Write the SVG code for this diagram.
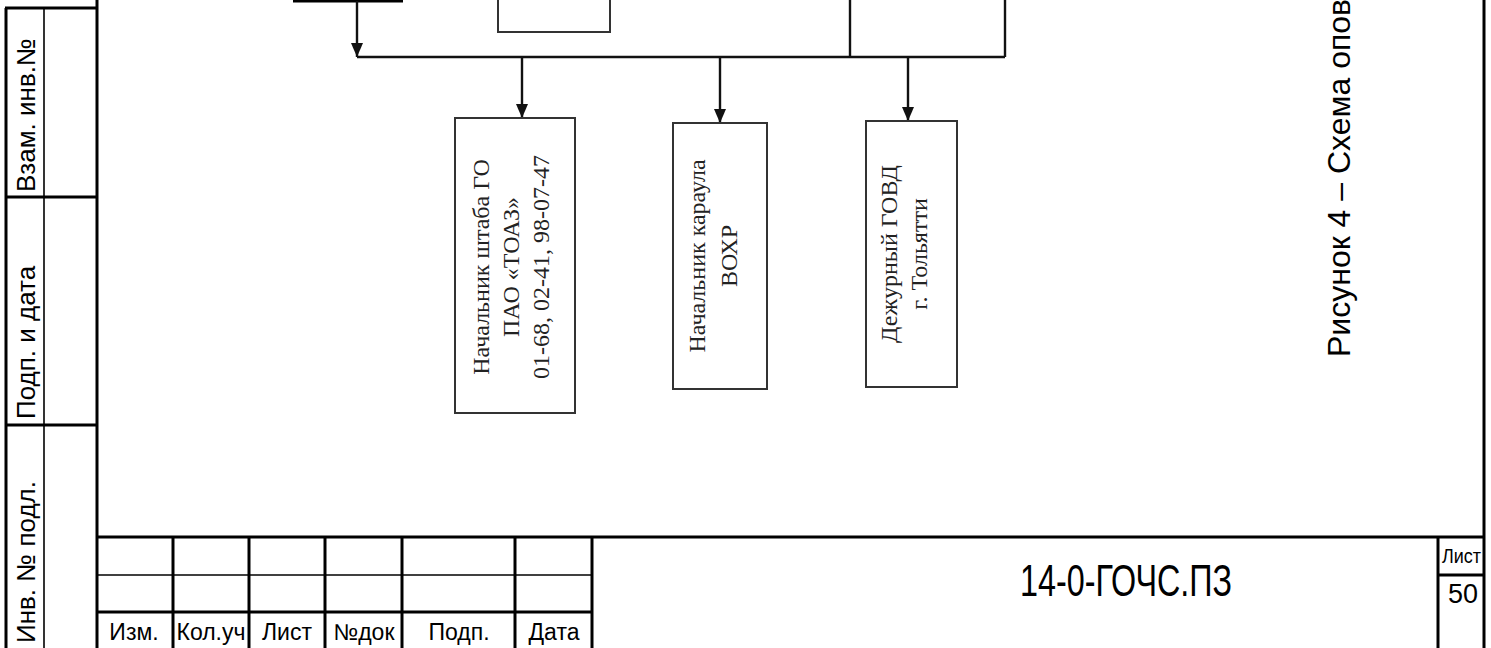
<svg xmlns="http://www.w3.org/2000/svg" width="1491" height="648" viewBox="0 0 1491 648">
<style>
.frame{stroke:#000;stroke-width:3;fill:none}
.thin{stroke:#000;stroke-width:1.6;fill:none}
.box{stroke:#333;stroke-width:2;fill:#fff}
.conn{stroke:#111;stroke-width:2.4;fill:none}
.sans{font-family:"Liberation Sans",Arial,sans-serif;fill:#000}
.side{font-family:"Liberation Sans",Arial,sans-serif;font-size:26px;fill:#000}
.serif{font-family:"Liberation Serif","Times New Roman",serif;font-size:24px;fill:#222;text-anchor:middle}
</style>
<defs>
<marker id="arr" markerUnits="userSpaceOnUse" markerWidth="14" markerHeight="14" viewBox="0 0 14 14" refX="14" refY="7" orient="auto">
<path d="M0,1 L14,7 L0,13 Z" fill="#111"/>
</marker>
</defs>
<rect width="1491" height="648" fill="#fff"/>

<g id="frame">
<line class="frame" x1="97" y1="0" x2="97" y2="648"/>
<line class="frame" x1="1484" y1="0" x2="1484" y2="648"/>
<line class="frame" x1="6" y1="8" x2="6" y2="648"/>
<line class="thin" x1="44" y1="8" x2="44" y2="648"/>
<line class="frame" x1="5" y1="8" x2="97" y2="8"/>
<line class="frame" x1="5" y1="197" x2="97" y2="197"/>
<line class="frame" x1="5" y1="425" x2="97" y2="425"/>
<text class="side" transform="translate(35,192) rotate(-90)">Взам. инв.№</text>
<text class="side" transform="translate(35,419) rotate(-90)">Подп. и дата</text>
<text class="side" transform="translate(35,643) rotate(-90)">Инв. № подл.</text>
</g>

<g id="title-block">
<line class="frame" x1="97" y1="537" x2="1484" y2="537"/>
<line class="thin" x1="97" y1="575" x2="592" y2="575"/>
<line class="frame" x1="97" y1="612" x2="592" y2="612"/>
<line class="frame" x1="173" y1="537" x2="173" y2="648"/>
<line class="frame" x1="249" y1="537" x2="249" y2="648"/>
<line class="frame" x1="325" y1="537" x2="325" y2="648"/>
<line class="frame" x1="402" y1="537" x2="402" y2="648"/>
<line class="frame" x1="515" y1="537" x2="515" y2="648"/>
<line class="frame" x1="592" y1="537" x2="592" y2="648"/>
<line class="frame" x1="1438" y1="537" x2="1438" y2="648"/>
<line class="frame" x1="1438" y1="575" x2="1484" y2="575"/>
<g class="sans" font-size="23" text-anchor="middle">
<text x="134" y="640">Изм.</text>
<text x="211" y="640">Кол.уч</text>
<text x="287" y="640">Лист</text>
<text x="364" y="640">№док</text>
<text x="459" y="640">Подп.</text>
<text x="554" y="640">Дата</text>
</g>
<text class="sans" font-size="44" x="1020" y="596" textLength="212" lengthAdjust="spacingAndGlyphs">14-0-ГОЧС.ПЗ</text>
<text class="sans" font-size="21" x="1442" y="563" textLength="39" lengthAdjust="spacingAndGlyphs">Лист</text>
<text class="sans" font-size="28" x="1448" y="603" textLength="30" lengthAdjust="spacingAndGlyphs">50</text>
</g>

<g id="caption">
<text class="sans" font-size="32" transform="translate(1350,357) rotate(-90)">Рисунок 4 – Схема опов</text>
</g>

<g id="node-top-left">
<line class="frame" x1="293" y1="1" x2="403" y2="1"/>
</g>
<g id="node-top-center">
<path class="box" d="M498,0 V32 H610 V0"/>
</g>

<g id="connectors">
<path class="conn" d="M357,1 V57" marker-end="url(#arr)"/>
<path class="conn" d="M357,57 H1005"/>
<path class="conn" d="M850,0 V57"/>
<path class="conn" d="M1005,0 V57"/>
<path class="conn" d="M522,57 V118" marker-end="url(#arr)"/>
<path class="conn" d="M720,57 V123" marker-end="url(#arr)"/>
<path class="conn" d="M908,57 V121" marker-end="url(#arr)"/>
</g>

<g id="node-gochs">
<rect class="box" x="455" y="118" width="120" height="295"/>
<text class="serif" transform="translate(489,267) rotate(-90)">Начальник штаба ГО</text>
<text class="serif" transform="translate(519,267) rotate(-90)">ПАО «ТОАЗ»</text>
<text class="serif" transform="translate(549,267) rotate(-90)">01-68, 02-41, 98-07-47</text>
</g>

<g id="node-vokhr">
<rect class="box" x="673" y="123" width="94" height="266"/>
<text class="serif" transform="translate(705,256) rotate(-90)">Начальник караула</text>
<text class="serif" transform="translate(737,256) rotate(-90)">ВОХР</text>
</g>

<g id="node-govd">
<rect class="box" x="866" y="121" width="91" height="266"/>
<text class="serif" transform="translate(897,254) rotate(-90)">Дежурный ГОВД</text>
<text class="serif" transform="translate(927,254) rotate(-90)">г. Тольятти</text>
</g>
</svg>
